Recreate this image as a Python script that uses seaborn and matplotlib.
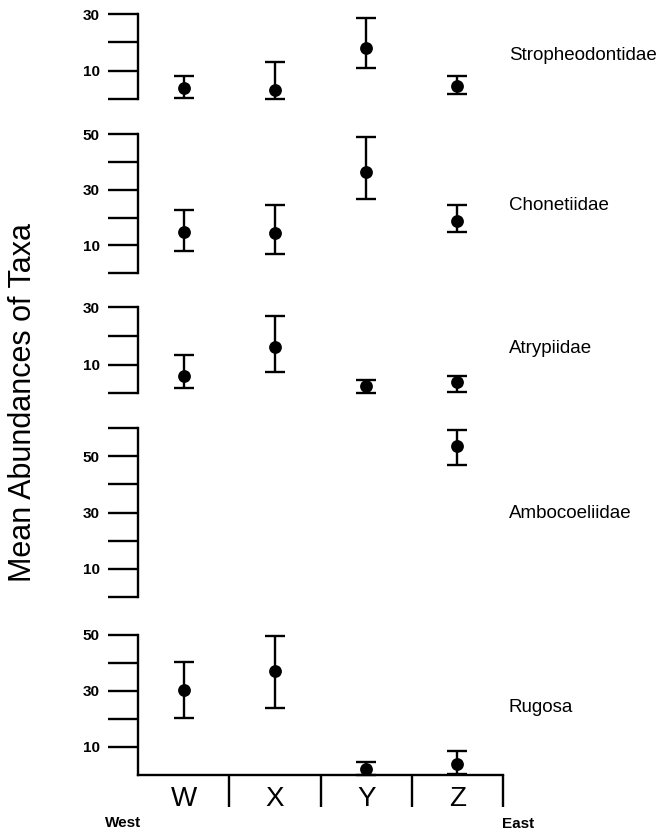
import numpy as np
import pandas as pd
import matplotlib
matplotlib.use('Agg')
import matplotlib.pyplot as plt
import seaborn as sns

# sites along the west-east transect
sites = ['W', 'X', 'Y', 'Z']
taxa = ['Stropheodontidae', 'Chonetiidae', 'Atrypiidae', 'Ambocoeliidae', 'Rugosa']

# means and error bar ends
strop_mean = [3.8, 3.2, 18.0, 4.7]
strop_low = [0.2, 0.0, 11.0, 1.9]
strop_high = [8.2, 13.1, 28.7, 8.2]

chon_mean = [14.7, 14.4, 36.5, 18.6]
chon_low = [7.9, 6.9, 26.8, 14.9]
chon_high = [22.8, 24.6, 49.1, 24.6]

atry_mean = [6.1, 16.2, 2.5, 3.8]
atry_low = [2.0, 7.5, 0.0, 0.3]
atry_high = [13.3, 27.0, 4.5, 6.1]

ambo_mean = [np.nan, np.nan, np.nan, 53.7]
ambo_low = [np.nan, np.nan, np.nan, 46.9]
ambo_high = [np.nan, np.nan, np.nan, 59.5]

rug_mean = [30.4, 37.3, 2.1, 3.9]
rug_low = [20.2, 23.8, 0.0, 0.3]
rug_high = [40.4, 49.8, 4.8, 8.6]

y_max = [30, 50, 30, 60, 50]

series = [
    (strop_mean, strop_low, strop_high),
    (chon_mean, chon_low, chon_high),
    (atry_mean, atry_low, atry_high),
    (ambo_mean, ambo_low, ambo_high),
    (rug_mean, rug_low, rug_high),
]

# layout (pixels in a 660x835 canvas)
W, H = 660, 835
x_left, x_right = 138, 503
panel_px = [(14, 99), (134, 273.3), (307.3, 393.3), (428.3, 596.7), (635, 775)]
label_y = [56, 205, 349, 513, 708]

sns.set_style('ticks', {'axes.edgecolor': 'black', 'xtick.color': 'black',
                        'ytick.color': 'black', 'text.color': 'black'})
plt.rcParams['font.family'] = ['Liberation Sans', 'DejaVu Sans']

fig = plt.figure(figsize=(W / 100, H / 100), dpi=100)

for i, (name, (mean, low, high)) in enumerate(zip(taxa, series)):
    top, bot = panel_px[i]
    ax = fig.add_axes([x_left / W, 1 - bot / H, (x_right - x_left) / W, (bot - top) / H])
    df = pd.DataFrame({'site': np.arange(len(sites)), 'mean': mean,
                       'low': low, 'high': high}).dropna()
    yerr = [df['mean'] - df['low'], df['high'] - df['mean']]
    ax.errorbar(df['site'], df['mean'], yerr=yerr, fmt='none', ecolor='black',
                elinewidth=1.7, capsize=7.2, capthick=1.7, clip_on=False, zorder=2)
    sns.scatterplot(x=df['site'], y=df['mean'], ax=ax, color='black', s=85,
                    edgecolor='black', linewidth=0, zorder=3, clip_on=False, legend=False)

    ax.set_xlim(-0.5, len(sites) - 0.5)
    ax.set_ylim(0, y_max[i])
    ax.set_xlabel('')
    ax.set_ylabel('')
    sns.despine(ax=ax, top=True, right=True, bottom=(i < len(taxa) - 1))
    ax.spines['left'].set_linewidth(1.7)

    major = np.arange(10, y_max[i] + 1, 20)
    minor = np.arange(0, y_max[i] + 1, 20)
    if i == len(taxa) - 1:
        minor = minor[minor > 0]
    ax.set_yticks(major)
    ax.set_yticklabels([str(v) for v in major], fontweight='bold', fontsize=11)
    ax.set_yticks(minor, minor=True)
    ax.tick_params(axis='y', which='both', direction='out', length=21.5, width=1.7,
                   pad=6, colors='black')

    if i < len(taxa) - 1:
        ax.set_xticks([])
    else:
        ax.spines['bottom'].set_linewidth(1.7)
        ax.set_xticks(np.arange(len(sites)) + 0.5)
        ax.set_xticklabels([''] * len(sites))
        ax.set_xticks(np.arange(len(sites)), minor=True)
        ax.set_xticklabels(sites, minor=True, fontsize=20)
        ax.tick_params(axis='x', which='major', direction='out', length=23, width=1.7,
                       colors='black')
        ax.tick_params(axis='x', which='minor', length=0, pad=8, colors='black')

    fig.text(509 / W, 1 - label_y[i] / H, name, fontsize=13.5, va='center', ha='left')

fig.text(23 / W, 1 - 402 / H, 'Mean Abundances of Taxa', rotation=90,
         fontsize=22, va='center', ha='center')
fig.text(123 / W, 1 - 823 / H, 'West', fontsize=11, fontweight='bold',
         va='center', ha='center')
fig.text(502 / W, 1 - 824 / H, 'East', fontsize=11, fontweight='bold',
         va='center', ha='left')

fig.savefig('out.png', dpi=100)
